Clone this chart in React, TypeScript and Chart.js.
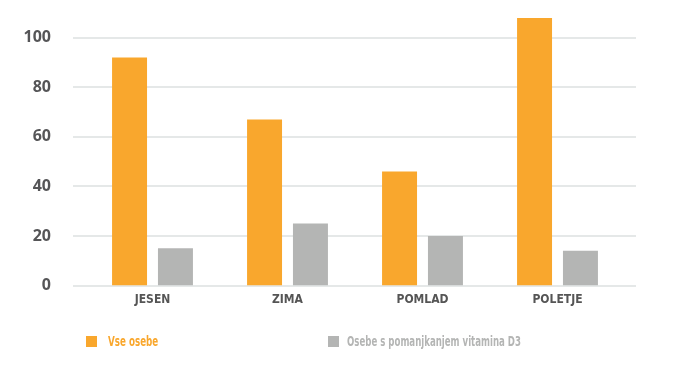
import React, { useEffect, useLayoutEffect, useRef } from 'react';
import { Chart, registerables } from 'chart.js';

Chart.register(...registerables);

const categories = ['JESEN', 'ZIMA', 'POMLAD', 'POLETJE'];
const allPeople = [92, 67, 46, 108];
const deficient = [15, 25, 20, 14];
const yTickValues = [0, 20, 40, 60, 80, 100];
const seriesNames = ['Vse osebe', 'Osebe s pomanjkanjem vitamina D3'];
const seriesColors = ['#f9a72d', '#b4b5b4'];

const condensed = '"Liberation Sans Narrow", "DejaVu Sans Condensed", "Arial Narrow", sans-serif';

const gridPlugin = {
  id: 'extendedGrid',
  beforeDatasetsDraw(chart: any) {
    const { ctx, chartArea, scales } = chart;
    const y = scales.y;
    ctx.save();
    ctx.strokeStyle = '#e5e8e8';
    ctx.lineWidth = 2;
    yTickValues.forEach((v) => {
      const py = Math.round(y.getPixelForValue(v));
      ctx.beginPath();
      ctx.moveTo(chartArea.left - 12, py);
      ctx.lineTo(chartArea.right + 11, py);
      ctx.stroke();
    });
    ctx.restore();
  },
};

export default function App() {
  const ref = useRef<HTMLCanvasElement | null>(null);
  const legendRefs = [useRef<HTMLDivElement | null>(null), useRef<HTMLDivElement | null>(null)];
  const legendWidths = [50, 174];

  useLayoutEffect(() => {
    legendRefs.forEach((r, i) => {
      const el = r.current;
      if (!el) return;
      const w = el.offsetWidth;
      if (w > 0) el.style.transform = `scaleX(${legendWidths[i] / w})`;
    });
  }, []);

  useEffect(() => {
    if (!ref.current) return;
    const chart = new Chart(ref.current, {
      type: 'bar',
      data: {
        labels: categories,
        datasets: [
          {
            label: seriesNames[0],
            data: allPeople,
            backgroundColor: seriesColors[0],
            categoryPercentage: 0.68,
            barPercentage: 0.762,
          },
          {
            label: seriesNames[1],
            data: deficient,
            backgroundColor: seriesColors[1],
            categoryPercentage: 0.68,
            barPercentage: 0.762,
          },
        ],
      },
      options: {
        responsive: false,
        animation: false,
        layout: { padding: { left: 22, right: 66, top: 13, bottom: 57.5 } },
        plugins: {
          legend: { display: false },
          tooltip: { enabled: false },
        },
        scales: {
          x: {
            grid: { display: false, drawTicks: false },
            border: { display: false },
            ticks: {
              color: '#555555',
              padding: 7,
              font: { family: condensed, size: 12, weight: 'bold' },
            },
            afterFit: (axis: any) => {
              axis.height = 22;
              axis.paddingLeft = 0;
              axis.paddingRight = 0;
            },
          },
          y: {
            min: 0,
            max: 110,
            grid: { display: false, drawTicks: false },
            border: { display: false },
            afterBuildTicks: (axis: any) => {
              axis.ticks = yTickValues.map((v) => ({ value: v }));
            },
            afterFit: (axis: any) => {
              axis.width = 63;
              axis.paddingTop = 0;
              axis.paddingBottom = 0;
            },
            ticks: {
              color: '#555557',
              padding: 34,
              font: { family: '"Open Sans", sans-serif', size: 16, weight: 'bold' },
            },
          },
        },
      },
      plugins: [gridPlugin],
    });
    return () => chart.destroy();
  }, []);

  const legendText = {
    position: 'absolute' as const,
    top: 333,
    fontFamily: condensed,
    fontSize: 14,
    fontWeight: 'bold' as const,
    lineHeight: '17px',
    whiteSpace: 'nowrap' as const,
    transformOrigin: 'left center',
  };

  return (
    <div style={{ position: 'fixed', left: 0, top: 0, width: 691, height: 365, background: '#ffffff' }}>
      <canvas ref={ref} width={691} height={365} style={{ position: 'absolute', left: 0, top: 0 }} />
      <div style={{ position: 'absolute', left: 86, top: 336, width: 11, height: 11, background: seriesColors[0] }} />
      <div ref={legendRefs[0]} style={{ ...legendText, left: 108, color: seriesColors[0] }}>{seriesNames[0]}</div>
      <div style={{ position: 'absolute', left: 328, top: 336, width: 11, height: 11, background: seriesColors[1] }} />
      <div ref={legendRefs[1]} style={{ ...legendText, left: 347, color: seriesColors[1] }}>{seriesNames[1]}</div>
    </div>
  );
}
